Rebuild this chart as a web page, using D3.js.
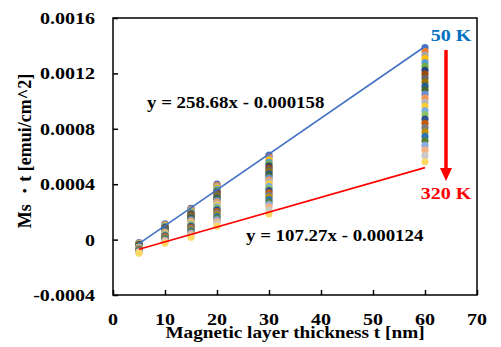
<!DOCTYPE html>
<html>
<head>
<meta charset="utf-8">
<script src="https://cdn.jsdelivr.net/npm/d3@7"></script>
<style>
  body { margin: 0; background: #fff; }
  text { font-family: "Liberation Serif", "Times New Roman", serif; font-weight: bold; }
</style>
</head>
<body>
<div id="chart"></div>
<script>
// thickness (nm) of each sample
const thickness = [5, 10, 15, 20, 30, 60];
// measurement temperatures (K), one series each
const temps = [50, 60, 70, 80, 90, 100, 110, 120, 130, 140, 150, 160, 170, 180,
  190, 200, 210, 220, 230, 240, 250, 260, 270, 280, 290, 300, 310, 320];

// Ms*t (emu/cm^2) at each thickness, ordered by temperature 50 K -> 320 K
const t5 = [-0.000022, -0.000025, -0.000027, -0.000030, -0.000032, -0.000035, -0.000037,
  -0.000040, -0.000043, -0.000045, -0.000048, -0.000051, -0.000053, -0.000056,
  -0.000059, -0.000062, -0.000064, -0.000067, -0.000070, -0.000073, -0.000076,
  -0.000079, -0.000082, -0.000085, -0.000088, -0.000091, -0.000094, -0.000097];
const t10 = [0.000113, 0.000108, 0.000104, 0.000099, 0.000095, 0.000090, 0.000086,
  0.000081, 0.000076, 0.000071, 0.000067, 0.000062, 0.000057, 0.000052,
  0.000047, 0.000042, 0.000037, 0.000032, 0.000027, 0.000022, 0.000017,
  0.000011, 0.000006, 0.000001, -0.000005, -0.000011, -0.000018, -0.000025];
const t15 = [0.000226, 0.000219, 0.000213, 0.000206, 0.000199, 0.000192, 0.000185,
  0.000178, 0.000171, 0.000164, 0.000157, 0.000149, 0.000142, 0.000134,
  0.000127, 0.000119, 0.000111, 0.000103, 0.000095, 0.000087, 0.000079,
  0.000071, 0.000063, 0.000054, 0.000046, 0.000037, 0.000027, 0.000017];
const t20 = [0.000400, 0.000391, 0.000382, 0.000372, 0.000363, 0.000353, 0.000343,
  0.000333, 0.000323, 0.000313, 0.000302, 0.000292, 0.000281, 0.000270,
  0.000259, 0.000248, 0.000237, 0.000226, 0.000214, 0.000203, 0.000191,
  0.000179, 0.000167, 0.000155, 0.000142, 0.000129, 0.000114, 0.000098];
const t30 = [0.000611, 0.000598, 0.000585, 0.000572, 0.000558, 0.000545, 0.000531,
  0.000517, 0.000503, 0.000489, 0.000474, 0.000460, 0.000445, 0.000430,
  0.000415, 0.000400, 0.000384, 0.000369, 0.000353, 0.000337, 0.000321,
  0.000305, 0.000288, 0.000271, 0.000254, 0.000236, 0.000212, 0.000185];
const t60 = [0.001386, 0.001360, 0.001333, 0.001306, 0.001278, 0.001251, 0.001222,
  0.001195, 0.001166, 0.001138, 0.001108, 0.001080, 0.001050, 0.001021,
  0.000991, 0.000962, 0.000931, 0.000901, 0.000870, 0.000840, 0.000808,
  0.000777, 0.000745, 0.000713, 0.000680, 0.000646, 0.000606, 0.000562];
const columns = [t5, t10, t15, t20, t30, t60];

// linear fits shown on the chart (x in cm)
const fitLabels = ["y = 258.68x - 0.000158", "y = 107.27x - 0.000124"];
const fitSlopes = [258.68, 107.27];
const fitIntercepts = [-0.000158, -0.000124];

const xTicks = [0, 10, 20, 30, 40, 50, 60, 70];
const yTicks = [-0.0004, 0, 0.0004, 0.0008, 0.0012, 0.0016];
const yTickLabels = ["-0.0004", "0", "0.0004", "0.0008", "0.0012", "0.0016"];

// Excel default series colours
const palette = ["#4472C4", "#ED7D31", "#A5A5A5", "#FFC000", "#5B9BD5", "#70AD47",
  "#264478", "#9E480E", "#636363", "#997300", "#255E91", "#43682B",
  "#698ED0", "#F1975A", "#B7B7B7", "#FFCD33", "#7CAFDD", "#8CC168",
  "#2F528F", "#C55A11", "#7B7B7B", "#BF9000", "#2E75B6", "#548235",
  "#8FAADC", "#F4B183", "#C9C9C9", "#FFD966"];

const W = 501, H = 347;
const pLeft = 113, pRight = 477, pTop = 18, pBottom = 295;
const sx = 1.18; // text in the picture is stretched sideways

const svg = d3.select("#chart").append("svg")
  .attr("width", W).attr("height", H);

const x = d3.scaleLinear().domain([0, 70]).range([pLeft, pRight]);
const y = d3.scaleLinear().domain([-0.0004, 0.0016]).range([pBottom, pTop]);

function label(px, py, txt, opts) {
  const o = opts || {};
  const g = svg.append("g")
    .attr("transform", "translate(" + px + "," + py + ")" + (o.rot ? " rotate(" + o.rot + ")" : "") + " scale(" + (o.sx || sx) + ",1)");
  g.append("text")
    .attr("text-anchor", o.anchor || "middle")
    .attr("font-size", o.size || 17)
    .attr("fill", o.fill || "#000")
    .text(txt);
  return g;
}

// frame
svg.append("rect")
  .attr("x", pLeft).attr("y", pTop)
  .attr("width", pRight - pLeft).attr("height", pBottom - pTop)
  .attr("fill", "none").attr("stroke", "#000").attr("stroke-width", 1.5);

// inward ticks
svg.append("g")
  .attr("transform", "translate(0," + pBottom + ")")
  .call(d3.axisTop(x).tickValues(xTicks).tickSize(5).tickFormat(""))
  .call(g => g.select(".domain").remove())
  .selectAll("line").attr("stroke-width", 1.5);
svg.append("g")
  .attr("transform", "translate(" + pLeft + ",0)")
  .call(d3.axisRight(y).tickValues(yTicks).tickSize(5).tickFormat(""))
  .call(g => g.select(".domain").remove())
  .selectAll("line").attr("stroke-width", 1.5);

// tick labels
xTicks.forEach(v => label(x(v), 325, String(v)));
yTicks.forEach((v, i) => label(95, y(v) + 6, yTickLabels[i], { anchor: "end" }));

// axis titles
label(295, 338, "Magnetic layer thickness t [nm]", { size: 17.5, sx: 1.1 });
label(31, 151, "Ms ・t [emui/cm^2]", { size: 18, rot: -90, sx: 1 });

// points, one series per temperature
temps.forEach((T, si) => {
  svg.append("g").selectAll("circle")
    .data(thickness.map((t, i) => ({ t: t, v: columns[i][si] })))
    .join("circle")
    .attr("cx", d => x(d.t))
    .attr("cy", d => y(d.v))
    .attr("r", 3.6)
    .attr("fill", palette[si % palette.length]);
});

// trend lines
const fitColors = ["#4472C4", "#FF0000"];
const xs = [d3.min(thickness), d3.max(thickness)];
fitSlopes.forEach((m, i) => {
  svg.append("path")
    .datum(xs)
    .attr("d", d3.line().x(t => x(t)).y(t => y(m * t * 1e-7 + fitIntercepts[i])))
    .attr("fill", "none")
    .attr("stroke", fitColors[i])
    .attr("stroke-width", 1.6);
});

// equations
label(147, 108, fitLabels[0], { anchor: "start", size: 16 });
label(246, 241, fitLabels[1], { anchor: "start", size: 16 });

// temperature arrow
svg.append("line")
  .attr("x1", 446).attr("y1", 50).attr("x2", 446).attr("y2", 170)
  .attr("stroke", "#FF0000").attr("stroke-width", 3.5);
svg.append("path")
  .attr("d", "M440,168 L452,168 L446,181 Z")
  .attr("fill", "#FF0000");
label(451, 41, temps[0] + " K", { size: 17, fill: "#0070C0" });
label(446, 199, temps[temps.length - 1] + " K", { size: 17, fill: "#FF0000" });
</script>
</body>
</html>
